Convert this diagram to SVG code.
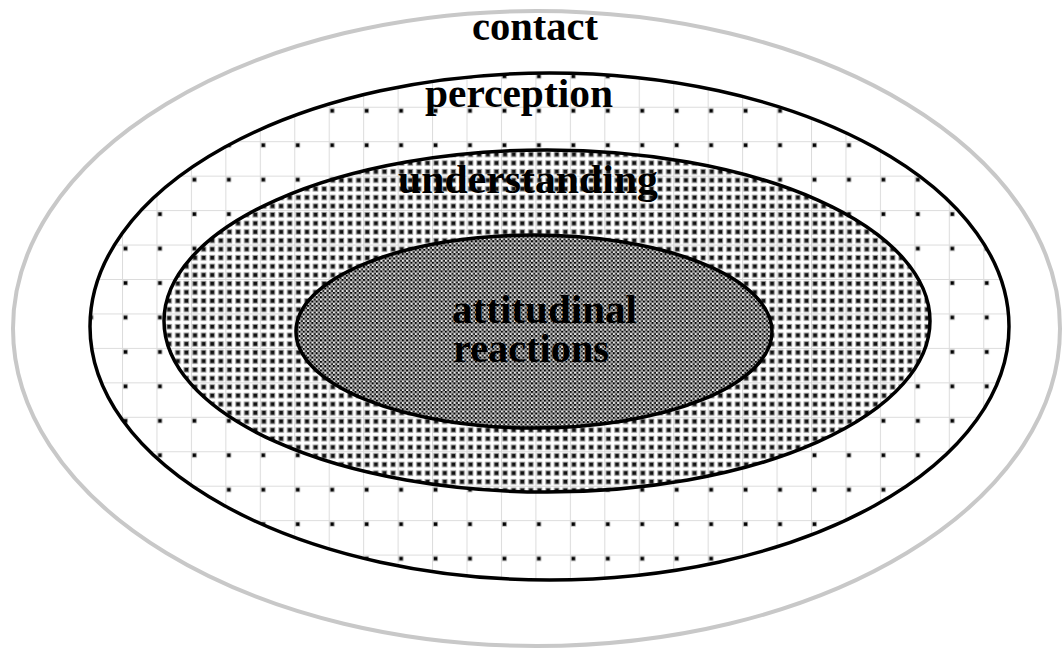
<svg xmlns="http://www.w3.org/2000/svg" width="1063" height="649" viewBox="0 0 1063 649">
<style>
.lbl{font-family:"Liberation Serif","Times New Roman",serif;font-weight:bold;font-size:41px;fill:#000;text-anchor:start}
.sm{font-size:39px}
.blk{fill:none;stroke:#000;stroke-width:3.5}
</style>
<defs>
<pattern id="grid" patternUnits="userSpaceOnUse" x="18.65" y="3.4" width="34.45" height="34.45">
<rect width="34.45" height="34.45" fill="#fff"/>
<path d="M0.5 0V34.45M0 0.5H34.45" stroke="#dcdcdc" stroke-width="1" fill="none"/>
<rect x="1" y="1.5" width="5" height="5" fill="#bbb"/>
<rect x="1.8" y="2.3" width="3.4" height="3.4" fill="#000"/>
</pattern>
<pattern id="gridlines" patternUnits="userSpaceOnUse" x="18.65" y="3.4" width="34.45" height="34.45">
<path d="M0.5 0V34.45M0 0.5H34.45" stroke="#bbb" stroke-width="1" fill="none"/>
</pattern>
<pattern id="dots" patternUnits="userSpaceOnUse" x="18.65" y="3.4" width="8.6125" height="8.6125">
<rect width="8.6125" height="8.6125" fill="#fff"/>
<rect x="1.3" y="1.8" width="5.6" height="5.6" fill="#9a9a9a"/>
<rect x="2.3" y="2.8" width="3.6" height="3.6" fill="#111"/>
</pattern>
<pattern id="checker" patternUnits="userSpaceOnUse" x="18.65" y="3.4" width="4.306" height="4.306">
<rect width="4.306" height="4.306" fill="#f0f0f0"/>
<rect width="2.153" height="2.153" fill="#000"/>
<rect x="2.153" y="2.153" width="2.153" height="2.153" fill="#222"/>
<rect x="2.153" y="0" width="2.153" height="2.153" fill="#a0a0a0"/>
</pattern>
</defs>
<rect width="1063" height="649" fill="#fff"/>
<g id="contact">
<ellipse cx="536.5" cy="328.5" rx="523.5" ry="317.5" fill="#fff" stroke="#c8c8c8" stroke-width="4"/>
<text class="lbl" x="472" y="40" textLength="126" lengthAdjust="spacingAndGlyphs">contact</text>
</g>
<g id="perception">
<ellipse cx="549.5" cy="326.5" rx="459.5" ry="253.5" class="blk" style="fill:url(#grid)"/>
</g>
<g id="understanding">
<ellipse cx="547" cy="321" rx="383" ry="171" style="fill:url(#dots)"/>
<ellipse cx="547" cy="321" rx="383" ry="171" style="fill:url(#gridlines)" opacity="0.6"/>
<ellipse cx="547" cy="321" rx="383" ry="171" class="blk"/>
</g>
<g id="attitudinal">
<ellipse cx="534" cy="331.5" rx="238" ry="96.5" style="fill:url(#checker)"/>
<ellipse cx="534" cy="331.5" rx="238" ry="96.5" class="blk"/>
</g>
<g id="labels">
<text class="lbl" x="425" y="107" textLength="188" lengthAdjust="spacingAndGlyphs">perception</text>
<text class="lbl" x="398" y="193" textLength="260" lengthAdjust="spacingAndGlyphs">understanding</text>
<text class="lbl sm" x="452" y="323" textLength="185" lengthAdjust="spacingAndGlyphs">attitudinal</text>
<text class="lbl sm" x="453" y="362" textLength="156" lengthAdjust="spacingAndGlyphs">reactions</text>
</g>
</svg>
